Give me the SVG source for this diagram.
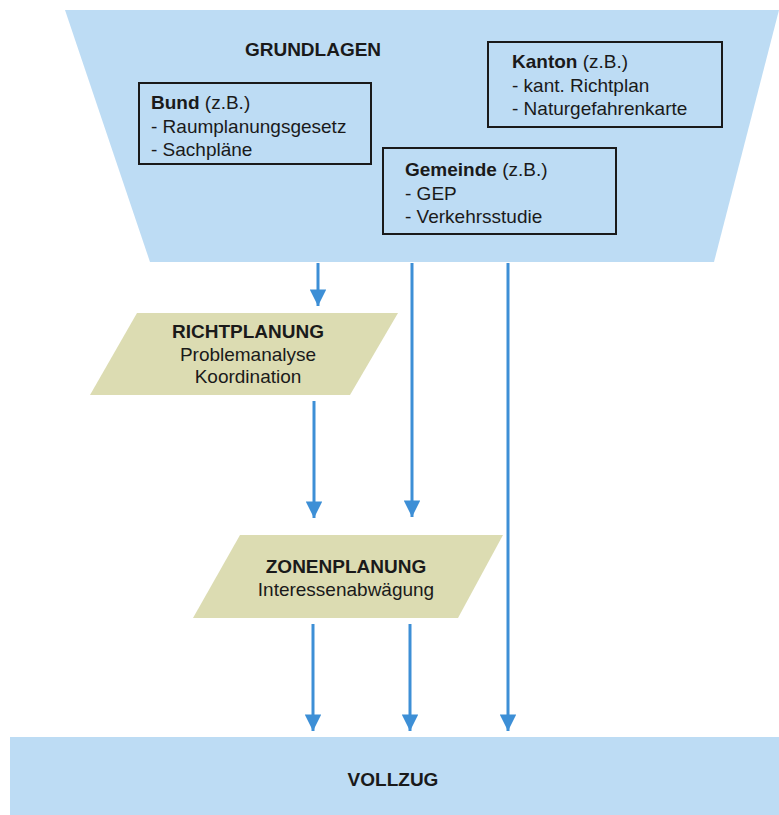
<svg xmlns="http://www.w3.org/2000/svg" width="779" height="815" viewBox="0 0 779 815">
<defs>
<marker id="ah" viewBox="0 0 10 10" refX="10" refY="5" markerWidth="6" markerHeight="5.5" orient="auto" markerUnits="strokeWidth">
<path d="M0,0 L10,5 L0,10 z" fill="#3d8fd6"/>
</marker>
<style>
.t{font-family:"Liberation Sans",Arial,sans-serif;font-size:19px;fill:#1a1a1a}
.b{font-weight:bold}
.box{fill:none;stroke:#1a1a1a;stroke-width:2}
.blue{fill:#bddcf4}
.khaki{fill:#dcdcb2}
.c{stroke:#3d8fd6;stroke-width:3;fill:none;marker-end:url(#ah)}
</style>
</defs>
<rect width="779" height="815" fill="#ffffff"/>
<g id="grundlagen">
<polygon class="blue" points="65,10 779,10 714,262 150,262"/>
<text class="t b" x="313" y="56" text-anchor="middle">GRUNDLAGEN</text>
</g>
<g id="bund">
<rect class="box" x="139" y="83" width="232" height="81"/>
<text class="t" x="151" y="109"><tspan class="b">Bund</tspan> (z.B.)</text>
<text class="t" x="151" y="133">- Raumplanungsgesetz</text>
<text class="t" x="151" y="156">- Sachpläne</text>
</g>
<g id="kanton">
<rect class="box" x="488" y="42" width="234" height="85"/>
<text class="t" x="512" y="68"><tspan class="b">Kanton</tspan> (z.B.)</text>
<text class="t" x="512" y="92">- kant. Richtplan</text>
<text class="t" x="512" y="115">- Naturgefahrenkarte</text>
</g>
<g id="gemeinde">
<rect class="box" x="383" y="148" width="233" height="86"/>
<text class="t" x="405" y="176"><tspan class="b">Gemeinde</tspan> (z.B.)</text>
<text class="t" x="405" y="200">- GEP</text>
<text class="t" x="405" y="223">- Verkehrsstudie</text>
</g>
<g id="richtplanung">
<polygon class="khaki" points="137,313 398,313 350,395 90,395"/>
<text class="t b" x="248" y="338" text-anchor="middle">RICHTPLANUNG</text>
<text class="t" x="248" y="361" text-anchor="middle">Problemanalyse</text>
<text class="t" x="248" y="383" text-anchor="middle">Koordination</text>
</g>
<g id="zonenplanung">
<polygon class="khaki" points="240,535 503,535 458,618 193,618"/>
<text class="t b" x="346" y="573" text-anchor="middle">ZONENPLANUNG</text>
<text class="t" x="346" y="596" text-anchor="middle">Interessenabwägung</text>
</g>
<g id="vollzug">
<rect class="blue" x="10" y="737" width="769" height="78"/>
<text class="t b" x="393" y="786" text-anchor="middle">VOLLZUG</text>
</g>
<g id="connectors">
<line class="c" x1="318" y1="263" x2="318" y2="306"/>
<line class="c" x1="412" y1="263" x2="412" y2="517"/>
<line class="c" x1="508" y1="263" x2="508" y2="731"/>
<line class="c" x1="314" y1="401" x2="314" y2="518"/>
<line class="c" x1="313" y1="624" x2="313" y2="731"/>
<line class="c" x1="410" y1="624" x2="410" y2="731"/>
</g>
</svg>
